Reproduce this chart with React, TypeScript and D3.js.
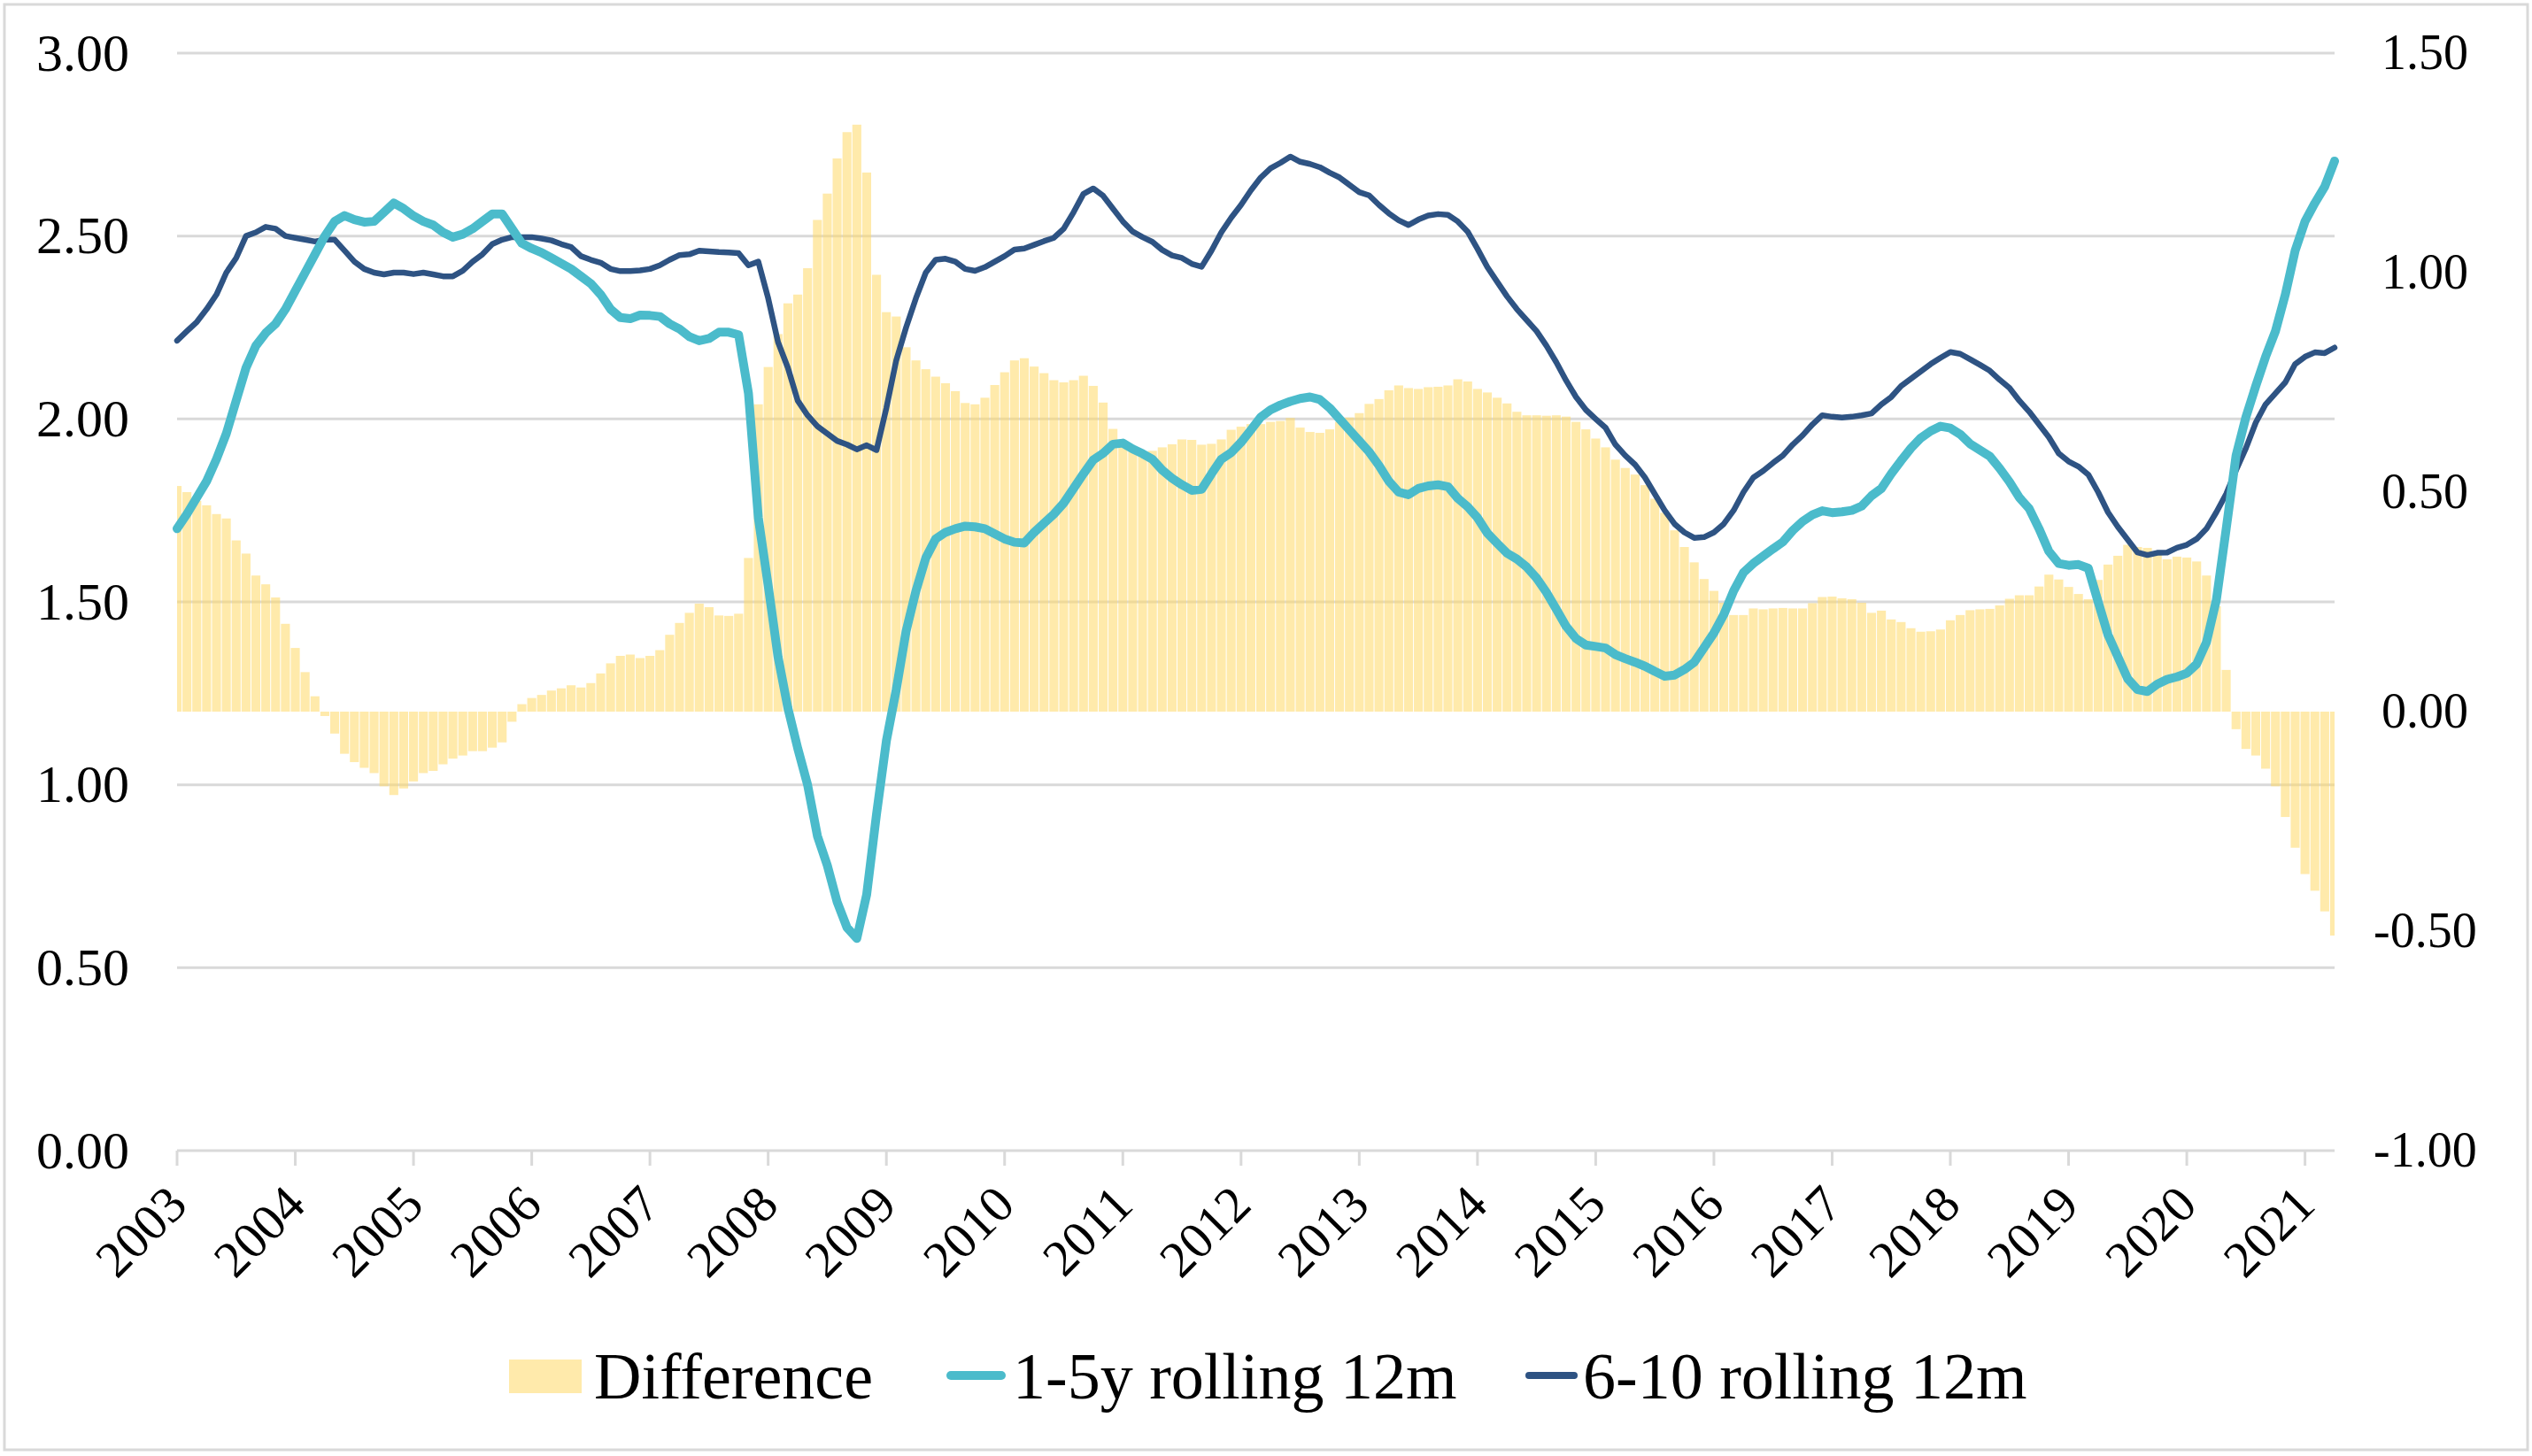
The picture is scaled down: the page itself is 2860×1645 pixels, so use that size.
import React from "react";
import * as d3 from "d3";

// ---------- data (monthly, Jan 2003 – Apr 2021) ----------
const YEAR_LABELS = [
  "2003", "2004", "2005", "2006", "2007", "2008", "2009", "2010", "2011", "2012",
  "2013", "2014", "2015", "2016", "2017", "2018", "2019", "2020", "2021",
];

const SERIES_NAMES = ["Difference", "1-5y rolling 12m", "6-10 rolling 12m"];

const RATE_1_5Y = [
  1.70, 1.74, 1.785, 1.83, 1.89, 1.96, 2.05, 2.14, 2.20, 2.235, 2.26, 2.30,
  2.35, 2.40, 2.45, 2.50, 2.54, 2.556, 2.545, 2.538, 2.54, 2.565, 2.59, 2.575,
  2.555, 2.54, 2.53, 2.51, 2.497, 2.505, 2.52, 2.54, 2.56, 2.56, 2.52, 2.48,
  2.466, 2.455, 2.44, 2.425, 2.41, 2.39, 2.37, 2.34, 2.30, 2.277, 2.274, 2.284,
  2.283, 2.28, 2.26, 2.246, 2.225, 2.214, 2.22, 2.237, 2.237, 2.23, 2.07, 1.73,
  1.545, 1.35, 1.21, 1.10, 1.00, 0.86, 0.78, 0.68, 0.61, 0.58, 0.70, 0.92,
  1.12, 1.26, 1.42, 1.53, 1.62, 1.672, 1.69, 1.70, 1.707, 1.705, 1.70, 1.686,
  1.672, 1.663, 1.661, 1.69, 1.715, 1.74, 1.77, 1.81, 1.85, 1.888, 1.906, 1.931,
  1.934, 1.918, 1.905, 1.89, 1.86, 1.838, 1.82, 1.805, 1.808, 1.85, 1.89, 1.908,
  1.936, 1.97, 2.005, 2.025, 2.038, 2.048, 2.056, 2.06, 2.053, 2.03, 2.00, 1.97,
  1.94, 1.91, 1.873, 1.83, 1.80, 1.793, 1.81, 1.817, 1.82, 1.815, 1.783, 1.76,
  1.73, 1.688, 1.66, 1.633, 1.617, 1.595, 1.565, 1.526, 1.48, 1.433, 1.40, 1.382,
  1.378, 1.374, 1.356, 1.345, 1.335, 1.324, 1.31, 1.297, 1.30, 1.315, 1.335, 1.375,
  1.415, 1.465, 1.53, 1.58, 1.605, 1.625, 1.645, 1.664, 1.695, 1.72, 1.738, 1.749,
  1.744, 1.746, 1.75, 1.762, 1.79, 1.81, 1.85, 1.886, 1.92, 1.948, 1.967, 1.98,
  1.975, 1.958, 1.932, 1.915, 1.898, 1.865, 1.828, 1.785, 1.755, 1.70, 1.638, 1.605,
  1.60, 1.602, 1.592, 1.50, 1.41, 1.35, 1.29, 1.26, 1.255, 1.275, 1.288, 1.295,
  1.305, 1.33, 1.39, 1.505, 1.70, 1.90, 2.005, 2.09, 2.17, 2.24, 2.34, 2.46,
  2.54, 2.59, 2.635, 2.705,
];

const RATE_6_10 = [
  2.214, 2.24, 2.265, 2.30, 2.34, 2.40, 2.44, 2.50, 2.51, 2.525, 2.52, 2.50,
  2.495, 2.49, 2.485, 2.49, 2.49, 2.46, 2.43, 2.41, 2.40, 2.395, 2.40, 2.40,
  2.396, 2.40, 2.395, 2.39, 2.39, 2.405, 2.43, 2.45, 2.478, 2.49, 2.497, 2.497,
  2.497, 2.493, 2.488, 2.478, 2.47, 2.445, 2.435, 2.427, 2.41, 2.404, 2.404, 2.406,
  2.41, 2.42, 2.435, 2.448, 2.45, 2.46, 2.458, 2.456, 2.455, 2.453, 2.42, 2.43,
  2.33, 2.21, 2.14, 2.05, 2.01, 1.98, 1.96, 1.94, 1.93, 1.917, 1.928, 1.915,
  2.03, 2.16, 2.25, 2.33, 2.40, 2.435, 2.438, 2.43, 2.41, 2.405, 2.415, 2.43,
  2.445, 2.463, 2.466, 2.476, 2.486, 2.495, 2.52, 2.565, 2.615, 2.63, 2.61, 2.575,
  2.54, 2.512, 2.497, 2.484, 2.462, 2.447, 2.44, 2.424, 2.416, 2.46, 2.51, 2.55,
  2.585, 2.625, 2.66, 2.685, 2.70, 2.717, 2.703, 2.697, 2.688, 2.673, 2.66, 2.64,
  2.62, 2.611, 2.585, 2.562, 2.543, 2.53, 2.545, 2.556, 2.56, 2.558, 2.54, 2.512,
  2.465, 2.415, 2.375, 2.335, 2.30, 2.27, 2.24, 2.20, 2.155, 2.105, 2.06, 2.025,
  2.00, 1.976, 1.93, 1.90, 1.875, 1.84, 1.795, 1.75, 1.713, 1.69, 1.675, 1.677,
  1.69, 1.713, 1.75, 1.80, 1.84, 1.858, 1.88, 1.90, 1.93, 1.955, 1.985, 2.01,
  2.006, 2.004, 2.006, 2.01, 2.015, 2.04, 2.06, 2.09, 2.11, 2.13, 2.15, 2.167,
  2.183, 2.178, 2.163, 2.148, 2.132, 2.107, 2.085, 2.05, 2.02, 1.985, 1.95, 1.906,
  1.884, 1.87, 1.848, 1.80, 1.745, 1.705, 1.67, 1.635, 1.628, 1.634, 1.635, 1.648,
  1.656, 1.672, 1.70, 1.745, 1.795, 1.86, 1.92, 1.99, 2.04, 2.07, 2.10, 2.15,
  2.17, 2.182, 2.18, 2.195,
];

const LEFT_TICKS = [0, 0.5, 1, 1.5, 2, 2.5, 3];
const RIGHT_TICKS = [-1, -0.5, 0, 0.5, 1, 1.5];

// ---------- chart ----------
const W = 2860;
const H = 1645;
const FONT = "'Liberation Serif', 'Times New Roman', serif";
const CYAN = "#4BBBCB";
const NAVY = "#2E5383";
const BAR = "#FFD966";
const GRID = "#D9D9D9";

export default function App() {
  const n = RATE_1_5Y.length;
  const left = 200;
  const right = 2637;
  const top = 60;
  const bottom = 1300;

  const x = d3.scaleLinear().domain([0, n - 1]).range([left, right]);
  const yL = d3.scaleLinear().domain([0, 3]).range([bottom, top]);
  const yR = d3.scaleLinear().domain([-1, 1.5]).range([bottom, top]);

  const difference = RATE_6_10.map((v, i) => v - RATE_1_5Y[i]);
  const step = x(1) - x(0);
  const bw = step - 1;

  const line = d3
    .line<number>()
    .x((_, i) => x(i))
    .y((d) => yL(d));

  return (
    <svg
      width={W}
      height={H}
      viewBox={`0 0 ${W} ${H}`}
      style={{ position: "absolute", left: 0, top: 0, background: "#fff", display: "block" }}
    >
      <rect x={0} y={0} width={W} height={H} fill="#fff" />
      <rect x={5} y={5} width={W - 10} height={H - 12} fill="none" stroke={GRID} strokeWidth={3} />
      <defs>
        <clipPath id="plotClip">
          <rect x={left} y={0} width={right - left} height={H} />
        </clipPath>
      </defs>

      {/* gridlines */}
      {LEFT_TICKS.map((t) => (
        <line key={"g" + t} x1={left} x2={right} y1={yL(t)} y2={yL(t)} stroke={GRID} strokeWidth={3} />
      ))}

      {/* year tick marks */}
      {YEAR_LABELS.map((_, i) => (
        <line
          key={"t" + i}
          x1={x(i * 12)}
          x2={x(i * 12)}
          y1={bottom}
          y2={bottom + 17}
          stroke={GRID}
          strokeWidth={3}
        />
      ))}

      {/* difference bars */}
      <g clipPath="url(#plotClip)">
        {difference.map((d, i) => (
          <rect
            key={"b" + i}
            x={x(i) - bw / 2}
            width={bw}
            y={Math.min(yR(d), yR(0))}
            height={Math.abs(yR(d) - yR(0))}
            fill={BAR}
            fillOpacity={0.55}
          />
        ))}
      </g>

      {/* lines */}
      <path d={line(RATE_6_10) || ""} fill="none" stroke={NAVY} strokeWidth={6.5} strokeLinejoin="round" strokeLinecap="round" />
      <path d={line(RATE_1_5Y) || ""} fill="none" stroke={CYAN} strokeWidth={10} strokeLinejoin="round" strokeLinecap="round" />

      {/* left axis labels */}
      {LEFT_TICKS.map((t) => (
        <text
          key={"l" + t}
          x={146}
          y={yL(t)}
          dy="0.33em"
          textAnchor="end"
          fontFamily={FONT}
          fontSize={60}
          fill="#000"
        >
          {t.toFixed(2)}
        </text>
      ))}

      {/* right axis labels */}
      {RIGHT_TICKS.map((t) => (
        <text
          key={"r" + t}
          x={t < 0 ? 2681 : 2690}
          y={yR(t)}
          dy="0.33em"
          textAnchor="start"
          fontFamily={FONT}
          fontSize={56}
          fill="#000"
        >
          {t.toFixed(2)}
        </text>
      ))}

      {/* x labels */}
      {YEAR_LABELS.map((lab, i) => (
        <text
          key={"x" + lab}
          transform={`translate(${x(i * 12) + 14},${bottom + 64}) rotate(-45)`}
          textAnchor="end"
          fontFamily={FONT}
          fontSize={58}
          fill="#000"
        >
          {lab}
        </text>
      ))}

      {/* legend */}
      <g fontFamily={FONT} fontSize={74} fill="#000">
        <rect x={575} y={1536} width={82} height={38} fill={BAR} fillOpacity={0.55} />
        <text x={671} y={1580}>{SERIES_NAMES[0]}</text>
        <line x1={1074} x2={1131} y1={1554} y2={1554} stroke={CYAN} strokeWidth={10} strokeLinecap="round" />
        <text x={1144} y={1580}>{SERIES_NAMES[1]}</text>
        <line x1={1727} x2={1778} y1={1554} y2={1554} stroke={NAVY} strokeWidth={8} strokeLinecap="round" />
        <text x={1788} y={1580}>{SERIES_NAMES[2]}</text>
      </g>
    </svg>
  );
}
